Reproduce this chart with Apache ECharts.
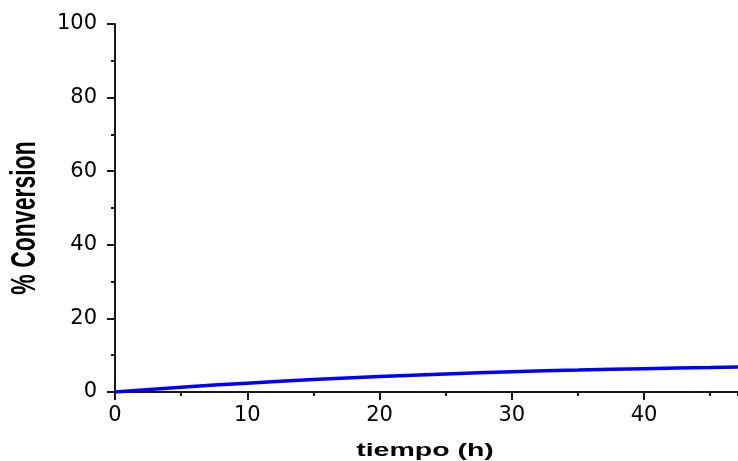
<!DOCTYPE html>
<html>
<head>
<meta charset="utf-8">
<script src="https://cdn.jsdelivr.net/npm/echarts@6/dist/echarts.min.js"></script>
<style>
  html,body{margin:0;padding:0;background:#fff;}
  #chart_wrap{width:738px;height:461px;}
</style>
</head>
<body>
<div id="chart_wrap"></div>
<script>
// tiempo (h) y % conversion
var tiempo=[0,5,10,15,20,25,30,35,40,45,48];
var conversion=[0,1.3,2.4,3.4,4.2,4.9,5.5,5.95,6.35,6.65,6.85];
var yTicks=[0,20,40,60,80,100];
var xMin=0,xMax=47.1;

var objChart=echarts.init(document.getElementById('chart_wrap'));

var data=tiempo.map(function(t,i){
  return [t,conversion[i]];
});

var axisColor='#1a1a1a';
var labelStyle={
  fontFamily:'DejaVu Sans',
  fontSize:21,
  color:'#000'
};

var option={
  animation:false,
  grid:{
    left:115,
    top:24,
    right:0,
    bottom:69
  },
  xAxis:[
    { // ejes con etiquetas (cada 10)
      type:'value',
      position:'bottom',
      min:xMin,
      max:xMax,
      interval:10,
      axisLine:{show:true,onZero:false,lineStyle:{color:axisColor,width:2}},
      axisTick:{show:true,inside:false,length:8,lineStyle:{color:axisColor,width:2}},
      splitLine:{show:false},
      axisLabel:Object.assign({margin:13,showMaxLabel:false},labelStyle)
    },
    { // ticks menores (cada 5)
      type:'value',
      position:'bottom',
      min:xMin,
      max:xMax,
      interval:5,
      axisLine:{show:true,onZero:false,lineStyle:{color:axisColor,width:2}},
      axisTick:{show:true,inside:false,length:4,lineStyle:{color:axisColor,width:2}},
      splitLine:{show:false},
      axisLabel:{show:false}
    }
  ],
  yAxis:{
    type:'value',
    min:yTicks[0],
    max:yTicks[yTicks.length-1],
    interval:20,
    axisLine:{show:true,onZero:false,lineStyle:{color:axisColor,width:2}},
    axisTick:{show:true,inside:false,length:8,lineStyle:{color:axisColor,width:2}},
    minorTick:{show:true,splitNumber:2,length:4,lineStyle:{color:axisColor,width:2}},
    splitLine:{show:false},
    axisLabel:Object.assign({margin:18},labelStyle)
  },
  graphic:[
    { // titulo eje x
      type:'text',
      x:425,
      y:451,
      scaleX:1.5,
      style:{
        text:'tiempo (h)',
        fontFamily:'Liberation Sans',
        fontWeight:'bold',
        fontSize:19,
        fill:'#000',
        align:'center',
        verticalAlign:'middle'
      }
    },
    { // titulo eje y
      type:'text',
      x:25,
      y:218,
      rotation:Math.PI/2,
      scaleY:1.5,
      style:{
        text:'% Conversion',
        fontFamily:'Liberation Sans',
        fontWeight:'bold',
        fontSize:23,
        fill:'#000',
        align:'center',
        verticalAlign:'middle'
      }
    }
  ],
  series:[
    {
      type:'line',
      xAxisIndex:0,
      data:data,
      smooth:true,
      showSymbol:false,
      clip:true,
      lineStyle:{color:'#0000ff',width:3.5},
      itemStyle:{color:'#0000ff'}
    }
  ]
};

objChart.setOption(option);
</script>
</body>
</html>
